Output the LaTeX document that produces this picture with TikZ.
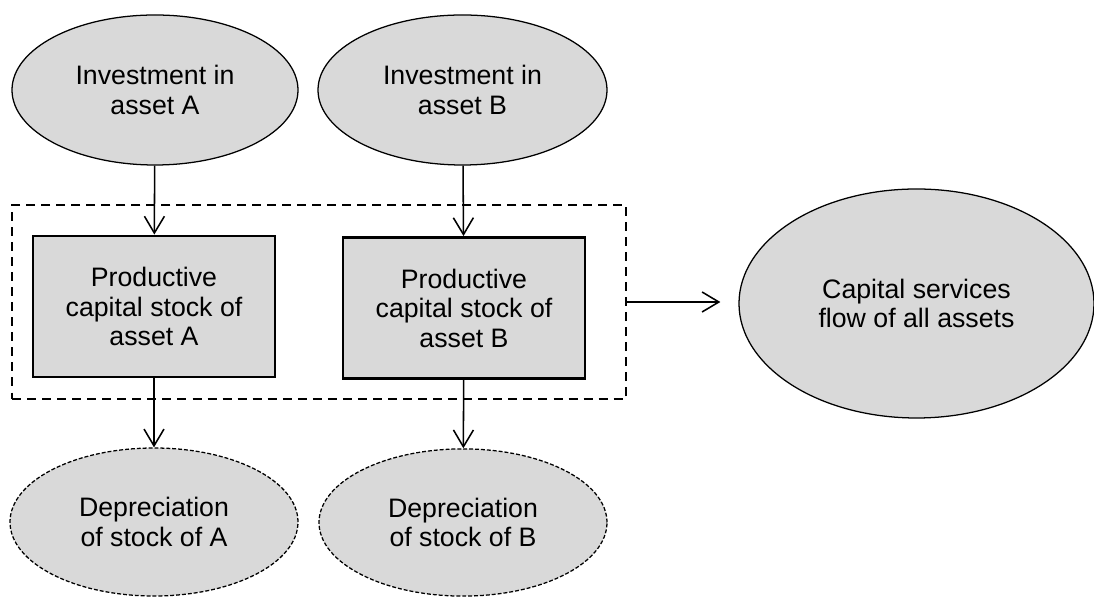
\documentclass[tikz,border=0pt]{standalone}
\usepackage{fontspec}
\setmainfont{Liberation Sans}
\usetikzlibrary{shapes.geometric,arrows.meta,positioning}

\begin{document}
\begin{tikzpicture}[
    labelFont/.style={font=\fontsize{19}{21}\selectfont, align=center},
    flowArrow/.style={-{Straight Barb[length=4.2mm,width=5mm]}, line width=1.1pt, draw=borderColour},
    assetBlob/.style={ellipse, labelFont, draw=borderColour, fill=fillColour, line width=0.9pt, inner sep=0pt},
    lossBlob/.style={assetBlob, dash pattern=on 2.8pt off 1.4pt},
    stockBox/.style={rectangle, labelFont, draw=borderColour, fill=fillColour, line width=1.9pt,
        minimum width=6.05cm, minimum height=3.53cm, inner sep=0pt},
    groupBox/.style={rectangle, draw=borderColour, line width=1.4pt, dash pattern=on 6.4pt off 4.3pt,
        minimum width=15.35cm, minimum height=4.85cm, inner sep=0pt}
]
    \definecolor{borderColour}{HTML}{000000}
    \definecolor{fillColour}{HTML}{D9D9D9}

    \useasboundingbox (0,0) rectangle (27.35,14.925);

    % Dashed group around both stocks
    \node[groupBox] (group) at (7.975,7.375) {};

    % Investment flows
    \node[assetBlob, minimum width=7.15cm, minimum height=3.75cm] (invA) at (3.875,12.675) {Investment in\\asset A};
    \node[assetBlob, minimum width=7.225cm, minimum height=3.75cm] (invB) at (11.5625,12.675) {Investment in\\asset B};

    % Capital stocks
    \node[stockBox] (stockA) at (3.85,7.2625) {Productive\\capital stock of\\asset A};
    \node[stockBox] (stockB) at (11.6,7.225) {Productive\\capital stock of\\asset B};

    % Depreciation
    \node[lossBlob, minimum width=7.2cm, minimum height=3.7cm] (deprA) at (3.85,1.875) {Depreciation\\of stock of A};
    \node[lossBlob, minimum width=7.2cm, minimum height=3.68cm] (deprB) at (11.575,1.8625) {Depreciation\\of stock of B};

    % Capital services
    \node[assetBlob, minimum width=8.875cm, minimum height=5.725cm] (services) at (22.9125,7.3375) {Capital services\\flow of all assets};

    % Arrows
    \draw[flowArrow] (invA) -- (stockA);
    \draw[flowArrow] (invB) -- (stockB);
    \draw[flowArrow] (stockA) -- (deprA);
    \draw[flowArrow] (stockB) -- (deprB);
    \draw[flowArrow, shorten >=0.45cm] (group.east) -- (group.east -| services.west);

\end{tikzpicture}
\end{document}
